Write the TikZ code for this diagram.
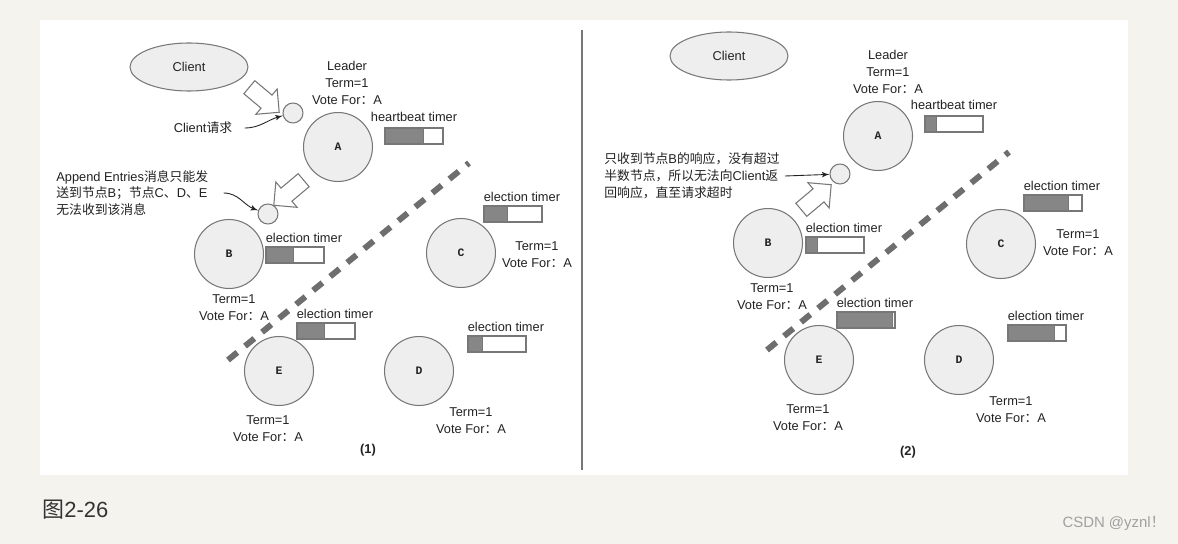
\documentclass[tikz,border=0pt]{standalone}
\usepackage{fontspec}
\setmainfont{Liberation Sans}
\newfontfamily\cjk{Noto Sans CJK SC}
\newfontfamily\codefont{Liberation Mono}
\usepackage{tikz}
\usetikzlibrary{shapes.geometric,shapes.arrows,arrows,positioning}

\definecolor{pagebg}{HTML}{F5F3EE}
\definecolor{nodefill}{HTML}{EEEEEE}
\definecolor{linegray}{HTML}{777777}
\definecolor{bargray}{HTML}{868686}
\definecolor{dashgray}{HTML}{6E6E6E}
\definecolor{txt}{HTML}{222222}
\definecolor{captxt}{HTML}{333333}
\definecolor{wmgray}{HTML}{A0A0A0}

\newcommand{\vfor}{Vote For{\cjk ：}A}

\tikzset{
  server/.style={circle, draw=linegray, fill=nodefill, line width=0.6pt, minimum size=1.38cm, inner sep=0pt, font=\codefont\bfseries\fontsize{6.5}{6.5}\selectfont},
  dot/.style={circle, draw=linegray, fill=nodefill, line width=0.6pt, minimum size=0.4cm, inner sep=0pt},
  client/.style={ellipse, draw=linegray, fill=nodefill, line width=0.6pt, minimum width=2.36cm, minimum height=0.96cm, inner sep=0pt},
  info/.style={align=center, inner sep=0pt},
  note/.style={align=left, inner sep=0pt, anchor=west},
  timerbar/.style={draw=linegray, fill=white, line width=0.6pt, minimum width=1.16cm, minimum height=0.32cm, inner sep=0pt,
    path picture={\fill[bargray, draw=linegray] (path picture bounding box.south west) rectangle ([xshift=#1*1.16cm]path picture bounding box.north west);}},
  bigarrow/.style={single arrow, draw=linegray, fill=white, line width=0.6pt, minimum height=0.78cm, inner xsep=0pt, inner ysep=0.16cm, single arrow head extend=0.16cm},
  thinarrow/.style={-latex', draw=txt, line width=0.5pt},
  sepline/.style={draw=dashgray, line width=0.12cm, dash pattern=on 0.24cm off 0.2cm}
}

\begin{document}
\begin{tikzpicture}[x=0.02cm, y=0.02cm, font=\fontsize{7.3}{9.6}\selectfont, text=txt]
\useasboundingbox (0,0) rectangle (1178,-544);
\fill[pagebg] (0,0) rectangle (1178,-544);
\fill[white] (40,-20) rectangle (1128,-475);
\draw[linegray, line width=0.6pt] (582,-30) -- (582,-470);

% (1)
\node[client] (cl1) at (189,-67) {Client};
\node[dot] (rq1) at (293,-113) {};
\node[dot] (ae1) at (268,-214) {};
\node[bigarrow, rotate=-40] (ba1) at (261,-97) {};
\node[bigarrow, rotate=220] (ba2) at (292,-190) {};

\node[info] (creq1) at (203,-128) {Client{\cjk 请求}};
\node[note] (aetxt1) at (56,-193) {Append Entries{\cjk 消息只能发}\\{\cjk 送到节点}B{\cjk ；节点}C{\cjk 、}D{\cjk 、}E\\{\cjk 无法收到该消息}};

\draw[thinarrow] ([xshift=0.24cm]creq1.east) to[out=0, in=195] (rq1);
\draw[thinarrow] ([xshift=0.3cm]aetxt1.east) to[out=0, in=160] (ae1);

\node[server] (A1) at (338,-147) {A};
\node[server] (B1) at (229,-254) {B};
\node[server] (C1) at (461,-253) {C};
\node[server] (E1) at (279,-371) {E};
\node[server] (D1) at (419,-371) {D};

\node[info] (lead1) at (347,-83) {Leader\\Term=1\\\vfor};
\node[info] (tB1) at (234,-308) {Term=1\\\vfor};
\node[info] (tC1) at (537,-255) {Term=1\\\vfor};
\node[info] (tE1) at (268,-429) {Term=1\\\vfor};
\node[info] (tD1) at (471,-421) {Term=1\\\vfor};

\node[timerbar=0.66] (hbA1) at (414,-136) {};
\node[timerbar=0.47] (etB1) at (295,-255) {};
\node[timerbar=0.41] (etC1) at (513,-214) {};
\node[timerbar=0.48] (etE1) at (326,-331) {};
\node[timerbar=0.25] (etD1) at (497,-344) {};

\node[above=0.1cm of hbA1, inner sep=0pt] (hbl1) {heartbeat timer};
\node[above right=0.06cm and 0cm of etB1.north west, inner sep=0pt] (etlB1) {election timer};
\node[above right=0.06cm and 0cm of etC1.north west, inner sep=0pt] (etlC1) {election timer};
\node[above right=0.06cm and 0cm of etE1.north west, inner sep=0pt] (etlE1) {election timer};
\node[above right=0.06cm and 0cm of etD1.north west, inner sep=0pt] (etlD1) {election timer};

\draw[sepline] (228,-360) -- (469,-163);
\node[info, font=\bfseries\fontsize{7.3}{9}\selectfont] (cap1) at (368,-450) {(1)};

% (2)
\node[client] (cl2) at (729,-56) {Client};
\node[dot] (rq2) at (840,-174) {};
\node[bigarrow, rotate=40] (ba3) at (813,-200) {};

\node[note] (nt2) at (604,-176) {{\cjk 只收到节点}B{\cjk 的响应，没有超过}\\{\cjk 半数节点，所以无法向}Client{\cjk 返}\\{\cjk 回响应，直至请求超时}};
\draw[thinarrow] ([xshift=0.1cm]nt2.east) -- (rq2);

\node[server] (A2) at (878,-136) {A};
\node[server] (B2) at (768,-243) {B};
\node[server] (C2) at (1001,-244) {C};
\node[server] (E2) at (819,-360) {E};
\node[server] (D2) at (959,-360) {D};

\node[info] (lead2) at (888,-72) {Leader\\Term=1\\\vfor};
\node[info] (tB2) at (772,-297) {Term=1\\\vfor};
\node[info] (tC2) at (1078,-243) {Term=1\\\vfor};
\node[info] (tE2) at (808,-418) {Term=1\\\vfor};
\node[info] (tD2) at (1011,-410) {Term=1\\\vfor};

\node[timerbar=0.19] (hbA2) at (954,-124) {};
\node[timerbar=0.2] (etB2) at (835,-245) {};
\node[timerbar=0.77] (etC2) at (1053,-203) {};
\node[timerbar=0.96] (etE2) at (866,-320) {};
\node[timerbar=0.8] (etD2) at (1037,-333) {};

\node[above=0.1cm of hbA2, inner sep=0pt] (hbl2) {heartbeat timer};
\node[above right=0.06cm and 0cm of etB2.north west, inner sep=0pt] (etlB2) {election timer};
\node[above right=0.06cm and 0cm of etC2.north west, inner sep=0pt] (etlC2) {election timer};
\node[above right=0.06cm and 0cm of etE2.north west, inner sep=0pt] (etlE2) {election timer};
\node[above right=0.06cm and 0cm of etD2.north west, inner sep=0pt] (etlD2) {election timer};

\draw[sepline] (767,-350) -- (1009,-152);
\node[info, font=\bfseries\fontsize{7.3}{9}\selectfont] (cap2) at (908,-452) {(2)};

% caption
\node[anchor=west, inner sep=0pt, text=captxt, font=\fontsize{12.5}{14}\selectfont] (fig) at (42,-510) {{\cjk 图}2-26};
\node[anchor=east, inner sep=0pt, text=wmgray, font=\fontsize{8.5}{10}\selectfont] (wm) at (1166,-523) {CSDN @yznl{\cjk ！}};
\end{tikzpicture}
\end{document}
